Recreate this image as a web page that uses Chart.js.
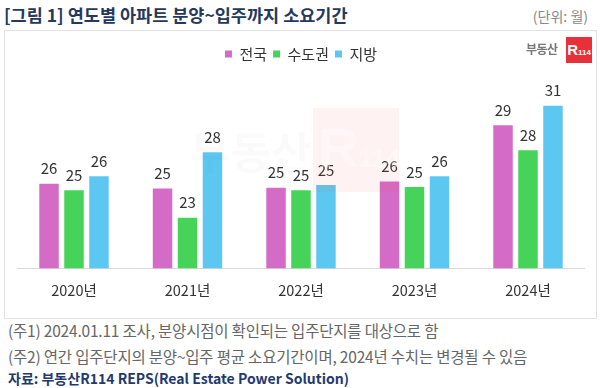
<!DOCTYPE html>
<html><head><meta charset="utf-8">
<script src="https://cdn.jsdelivr.net/npm/chart.js@4.4.1/dist/chart.umd.min.js"></script>
<style>
html,body{margin:0;padding:0;background:#fff;width:600px;height:388px;overflow:hidden;font-family:"Noto Sans CJK KR","Noto Sans",sans-serif;}
#title{position:absolute;left:4px;top:3px;font-size:17.5px;font-weight:700;color:#25395c;white-space:nowrap;line-height:24px;}
#unit{position:absolute;right:12px;top:4px;font-size:14px;color:#888;white-space:nowrap;line-height:24px;}
#box{position:absolute;left:4px;top:30px;width:591px;height:287px;border:1px solid #e2e2e2;}
#wrap{position:absolute;left:4px;top:31px;width:593px;height:288px;}
.note{position:absolute;left:8px;font-size:15.5px;color:#666;white-space:nowrap;line-height:20px;letter-spacing:-0.2px;}
#src{position:absolute;left:8px;top:368px;font-size:14px;font-weight:700;color:#1f3a6e;white-space:nowrap;line-height:20px;}
#logoT{position:absolute;left:526px;top:41px;font-size:12px;font-weight:700;color:#777;letter-spacing:-0.5px;line-height:16px;}
#logoR{position:absolute;left:566px;top:37px;width:26px;height:26px;background:#e8303a;color:#fff;font-weight:700;font-family:"Liberation Sans",sans-serif;line-height:26px;text-align:center;white-space:nowrap;}
#logoR b{font-size:15px;}#logoR span{font-size:8px;}
#wm{position:absolute;left:313px;top:108px;width:86px;height:84px;background:rgba(240,70,70,0.07);pointer-events:none;}
#wmR{position:absolute;left:318px;top:118px;font-size:56px;font-weight:700;color:rgba(255,255,255,0.35);font-family:"Liberation Sans",sans-serif;line-height:60px;pointer-events:none;}
#wmT{position:absolute;left:190px;top:120px;font-size:44px;font-weight:700;color:rgba(0,0,0,0.02);line-height:60px;pointer-events:none;white-space:nowrap;}
</style></head>
<body>
<div id="title">[그림 1] 연도별 아파트 분양~입주까지 소요기간</div>
<div id="unit">(단위: 월)</div>
<div id="box"></div>
<div id="wrap"><canvas id="c" width="593" height="288"></canvas></div>
<div id="logoT">부동산</div>
<div id="logoR"><b>R</b><span>114</span></div>
<div id="wmT">부동산</div>
<div id="wm"></div>
<div id="wmR">R<span style="font-size:26px">114</span></div>
<div class="note" style="top:320px">(주1) 2024.01.11 조사, 분양시점이 확인되는 입주단지를 대상으로 함</div>
<div class="note" style="top:346px">(주2) 연간 입주단지의 분양~입주 평균 소요기간이며, 2024년 수치는 변경될 수 있음</div>
<div id="src">자료: 부동산R114 REPS(Real Estate Power Solution)</div>
<script>
const categories = ['2020년','2021년','2022년','2023년','2024년'];
const seriesNames = ['전국','수도권','지방'];
const national = [25.53, 25.21, 25.27, 25.67, 29.35];
const capital  = [25.10, 23.31, 25.10, 25.31, 27.71];
const regional = [26.01, 27.58, 25.44, 26.01, 30.63];
const colors = ['#d46cc7','#45d35a','#5cc8f2'];

const valueLabels = {
  id:'valueLabels',
  afterDatasetsDraw(chart){
    const ctx = chart.ctx;
    ctx.save();
    ctx.font = '15px "Noto Sans CJK KR","Noto Sans",sans-serif';
    ctx.fillStyle = '#333';
    ctx.textAlign = 'center';
    ctx.textBaseline = 'alphabetic';
    chart.data.datasets.forEach((ds,i)=>{
      chart.getDatasetMeta(i).data.forEach((el,j)=>{
        ctx.fillText(String(Math.round(ds.data[j])), el.x, el.y - 9.5);
      });
    });
    ctx.restore();
  }
};

new Chart(document.getElementById('c'), {
  type:'bar',
  data:{
    labels: categories,
    datasets:[national,capital,regional].map((d,i)=>({
      label: seriesNames[i], data: d, backgroundColor: colors[i],
      categoryPercentage:0.66, barPercentage:0.78
    }))
  },
  options:{
    responsive:false, animation:false,
    layout:{padding:{left:13.25,right:12.25,top:9.5,bottom:0}},
    plugins:{
      legend:{display:true, position:'top',
        labels:{boxWidth:7, boxHeight:7, padding:6, color:'#333',
          font:{size:15, family:'"Noto Sans CJK KR","Noto Sans",sans-serif'}}},
      tooltip:{enabled:false}
    },
    scales:{
      x:{
        grid:{display:false, drawTicks:false},
        border:{display:true, color:'#d9d9d9', width:1},
        ticks:{padding:13, color:'#333', font:{size:14.5, family:'"Noto Sans CJK KR","Noto Sans",sans-serif'}},
        afterFit(s){ s.height = 50.7; }
      },
      y:{display:false, min:20, max:32.86}
    }
  },
  plugins:[valueLabels]
});
</script>
</body></html>
